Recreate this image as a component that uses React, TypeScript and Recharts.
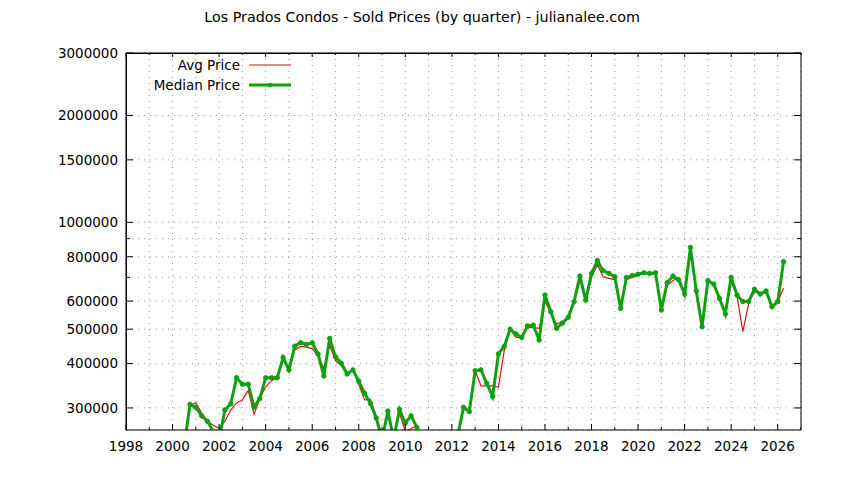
import { CartesianGrid, Line, LineChart, XAxis, YAxis } from "recharts";

// quarter start, as a decimal year
const quarters = [
  2000.5, 2000.75, 2001, 2001.25, 2001.5, 2001.75, 2002, 2002.25, 2002.5, 2002.75,
  2003, 2003.25, 2003.5, 2003.75, 2004, 2004.25, 2004.5, 2004.75,
  2005, 2005.25, 2005.5, 2005.75, 2006, 2006.25, 2006.5, 2006.75,
  2007, 2007.25, 2007.5, 2007.75, 2008, 2008.25, 2008.5, 2008.75,
  2009, 2009.25, 2009.5, 2009.75, 2010, 2010.25, 2010.5, 2010.75,
  2011, 2011.25, 2011.5, 2011.75, 2012, 2012.25, 2012.5, 2012.75,
  2013, 2013.25, 2013.5, 2013.75, 2014, 2014.25, 2014.5, 2014.75,
  2015, 2015.25, 2015.5, 2015.75, 2016, 2016.25, 2016.5, 2016.75,
  2017, 2017.25, 2017.5, 2017.75, 2018, 2018.25, 2018.5, 2018.75,
  2019, 2019.25, 2019.5, 2019.75, 2020, 2020.25, 2020.5, 2020.75,
  2021, 2021.25, 2021.5, 2021.75, 2022, 2022.25, 2022.5, 2022.75,
  2023, 2023.25, 2023.5, 2023.75, 2024, 2024.25, 2024.5, 2024.75,
  2025, 2025.25, 2025.5, 2025.75, 2026, 2026.25,
];

const avgPrices = [
  240000, 305000, 310000, 290000, 275000, 268000, 263000, 275000, 296000, 310000,
  316000, 336000, 288000, 319000, 344000, 358000, 365000, 410000,
  384000, 437000, 447000, 445000, 441000, 420000, 388000, 451000,
  408000, 395000, 374000, 384000, 350000, 316000, 317000, 285000,
  250000, 285000, 250000, 290000, 258000, 262000, 268000, 235000,
  235000, 228000, 240000, 232000, 225000, 250000, 301000, 293000,
  382000, 346000, 346000, 346000, 343000, 435000, 500000, 474000,
  474000, 505000, 505000, 503000, 600000, 555000, 517000, 525000,
  540000, 590000, 690000, 595000, 700000, 760000, 703000, 695000,
  690000, 572000, 690000, 700000, 710000, 721000, 716000, 715000,
  566000, 665000, 685000, 700000, 635000, 840000, 641000, 508000,
  685000, 668000, 610000, 552000, 680000, 620000, 492000, 590000,
  640000, 625000, 641000, 570000, 598000, 652000,
];

const medianPrices = [
  235000, 307000, 301000, 285000, 275000, 258000, 245000, 296000, 308000, 365000,
  350000, 350000, 302000, 319000, 365000, 365000, 365000, 416000,
  384000, 448000, 458000, 453000, 458000, 426000, 369000, 471000,
  418000, 401000, 374000, 384000, 357000, 330000, 309000, 281000,
  245000, 294000, 245000, 297000, 272000, 285000, 264000, 230000,
  235000, 228000, 240000, 232000, 225000, 250000, 301000, 293000,
  382000, 384000, 352000, 323000, 426000, 447000, 500000, 485000,
  474000, 511000, 513000, 466000, 624000, 560000, 503000, 520000,
  540000, 598000, 706000, 604000, 718000, 780000, 731000, 718000,
  703000, 572000, 699000, 708000, 714000, 721000, 718000, 721000,
  566000, 676000, 706000, 688000, 628000, 850000, 641000, 508000,
  685000, 670000, 610000, 552000, 700000, 624000, 598000, 598000,
  648000, 628000, 641000, 579000, 598000, 775000,
];

const yearTicks = [
  1998, 1999, 2000, 2001, 2002, 2003, 2004, 2005, 2006, 2007, 2008, 2009, 2010, 2011, 2012,
  2013, 2014, 2015, 2016, 2017, 2018, 2019, 2020, 2021, 2022, 2023, 2024, 2025, 2026, 2027,
];
const labeledYears = [
  1998, 2000, 2002, 2004, 2006, 2008, 2010, 2012, 2014, 2016, 2018, 2020, 2022, 2024, 2026,
];

const priceTicks = [
  300000, 400000, 500000, 600000, 700000, 800000, 900000, 1000000, 1500000, 2000000, 3000000,
];
const labeledPrices = [300000, 400000, 500000, 600000, 800000, 1000000, 1500000, 2000000, 3000000];

const xDomain = [1998, 2027];
const yDomain = [260000, 3000000];

const data = quarters.map((q, i) => ({ q, avg: avgPrices[i], median: medianPrices[i] }));

const FONT = "'DejaVu Sans', sans-serif";
const FONT_SIZE = 13.5;
const RED = "#dd1111";
const GREEN = "#11a011";
const X_MARGIN = 11;
const Y_MARGIN = 8;

// chart box
const W = 844;
const H = 480;
const margin = { top: 52, right: 42, bottom: 20, left: 46 };
const Y_AXIS_W = 80;
const X_AXIS_H = 30;

function XTick(props: any) {
  const { x, y, payload, side } = props;
  const major = labeledYears.includes(payload.value);
  if (side === "top") {
    return <line x1={x} x2={x} y1={y} y2={y + (major ? 4 : 2)} stroke="#000" />;
  }
  const axisY = y - X_MARGIN;
  return (
    <g>
      <line x1={x} x2={x} y1={axisY} y2={axisY - (major ? 6 : 3)} stroke="#000" />
      {major && (
        <text x={x} y={y} dy="0.71em" textAnchor="middle" fill="#000" fontFamily={FONT} fontSize={FONT_SIZE}>
          {payload.value}
        </text>
      )}
    </g>
  );
}

function YTick(props: any) {
  const { x, y, payload, side } = props;
  const len = labeledPrices.includes(payload.value) ? 7 : 4;
  if (side === "right") {
    return <line x1={x} x2={x - len} y1={y} y2={y} stroke="#000" />;
  }
  const axisX = x + Y_MARGIN;
  return (
    <g>
      <line x1={axisX} x2={axisX + len} y1={y} y2={y} stroke="#000" />
      {labeledPrices.includes(payload.value) && (
        <text x={x} y={y} dy="0.355em" textAnchor="end" fill="#000" fontFamily={FONT} fontSize={FONT_SIZE}>
          {payload.value}
        </text>
      )}
    </g>
  );
}

const legendItems = [
  { label: "Avg Price", color: RED, width: 1.2, dot: false },
  { label: "Median Price", color: GREEN, width: 3, dot: true },
];

function LegendBox() {
  return (
    <div
      style={{
        position: "absolute",
        left: 126,
        top: 55,
        fontFamily: FONT,
        fontSize: FONT_SIZE,
        lineHeight: "20px",
      }}
    >
      {legendItems.map((item) => (
        <div key={item.label} style={{ display: "flex", alignItems: "center" }}>
          <span style={{ width: 114, textAlign: "right", marginRight: 9 }}>{item.label}</span>
          <svg width={44} height={20}>
            <line x1={0} x2={42} y1={10} y2={10} stroke={item.color} strokeWidth={item.width} />
            {item.dot && <circle cx={21} cy={10} r={2.2} fill={item.color} />}
          </svg>
        </div>
      ))}
    </div>
  );
}

// plot frame drawn over the chart (left and top edges)
function PlotFrame() {
  const left = margin.left + Y_AXIS_W;
  const top = margin.top + 1;
  const width = W - left - margin.right - 1;
  const height = H - top - margin.bottom - X_AXIS_H;
  return (
    <div
      style={{
        position: "absolute",
        left: left - 0.5,
        top: top - 0.5,
        width,
        height,
        borderLeft: "1px solid #000",
        borderTop: "1px solid #000",
        pointerEvents: "none",
      }}
    />
  );
}

export default function App() {
  return (
    <div style={{ position: "absolute", left: 0, top: 0, width: W, height: H, background: "#fff" }}>
      <div
        style={{
          position: "absolute",
          top: 9,
          width: W,
          textAlign: "center",
          fontFamily: FONT,
          fontSize: 14.3,
        }}
      >
        Los Prados Condos - Sold Prices (by quarter) - julianalee.com
      </div>
      <LineChart width={W} height={H} data={data} margin={margin}>
        <CartesianGrid stroke="#999" strokeDasharray="1 5" />
        <XAxis
          type="number"
          dataKey="q"
          domain={xDomain}
          ticks={yearTicks}
          interval={0}
          height={X_AXIS_H}
          tickSize={0}
          tickMargin={X_MARGIN}
          tickLine={false}
          stroke="#000"
          tick={<XTick side="bottom" />}
        />
        <XAxis
          xAxisId="top"
          orientation="top"
          type="number"
          dataKey="q"
          domain={xDomain}
          ticks={yearTicks}
          interval={0}
          height={1}
          tickSize={0}
          tickMargin={0}
          tickLine={false}
          stroke="#000"
          tick={<XTick side="top" />}
        />
        <YAxis
          scale="log"
          domain={yDomain}
          allowDataOverflow
          ticks={priceTicks}
          interval={0}
          width={Y_AXIS_W}
          tickSize={0}
          tickMargin={Y_MARGIN}
          tickLine={false}
          stroke="#000"
          tick={<YTick side="left" />}
        />
        <YAxis
          yAxisId="right"
          orientation="right"
          scale="log"
          domain={yDomain}
          allowDataOverflow
          ticks={priceTicks}
          interval={0}
          width={1}
          tickSize={0}
          tickMargin={0}
          tickLine={false}
          stroke="#000"
          tick={<YTick side="right" />}
        />
        <Line
          type="linear"
          dataKey="avg"
          name="Avg Price"
          stroke={RED}
          strokeWidth={1.2}
          dot={false}
          isAnimationActive={false}
        />
        <Line
          type="linear"
          dataKey="median"
          name="Median Price"
          stroke={GREEN}
          strokeWidth={3}
          dot={{ r: 2.2, fill: GREEN, stroke: GREEN, strokeWidth: 1 }}
          isAnimationActive={false}
        />
      </LineChart>
      <PlotFrame />
      <LegendBox />
    </div>
  );
}
